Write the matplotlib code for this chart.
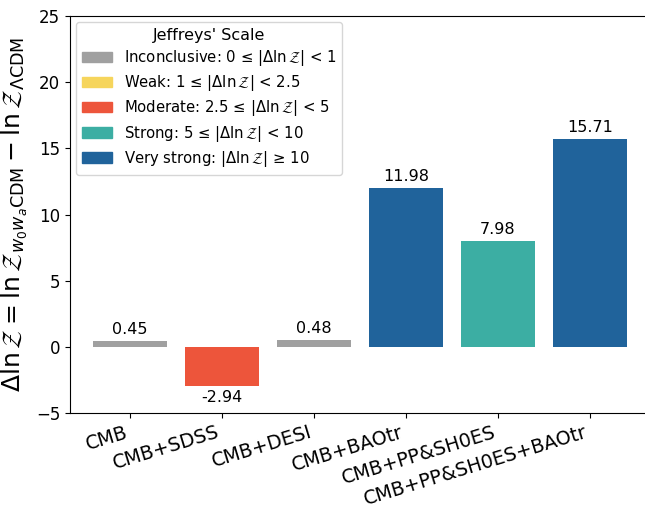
import matplotlib
matplotlib.use("Agg")
import matplotlib.pyplot as plt
from matplotlib.patches import Patch

# Data
datasets = ["CMB", "CMB+SDSS", "CMB+DESI", "CMB+BAOtr", "CMB+PP&SH0ES", "CMB+PP&SH0ES+BAOtr"]
delta_lnZ = [0.45, -2.94, 0.48, 11.98, 7.98, 15.71]

# Jeffreys' scale categories
scale_labels = [
    r"Inconclusive: 0 ≤ |$\Delta\ln\mathcal{Z}$| < 1",
    r"Weak: 1 ≤ |$\Delta\ln\mathcal{Z}$| < 2.5",
    r"Moderate: 2.5 ≤ |$\Delta\ln\mathcal{Z}$| < 5",
    r"Strong: 5 ≤ |$\Delta\ln\mathcal{Z}$| < 10",
    r"Very strong: |$\Delta\ln\mathcal{Z}$| ≥ 10",
]
scale_colors = ["#A0A0A0", "#F6D55C", "#ED553B", "#3CAEA3", "#20639B"]
scale_bounds = [1, 2.5, 5, 10]


def jeffreys_color(v):
    a = abs(v)
    for bound, col in zip(scale_bounds, scale_colors):
        if a < bound:
            return col
    return scale_colors[-1]


fig = plt.figure(figsize=(6.45, 5.12), dpi=100)
ax = fig.add_axes([70 / 645, 1 - 413 / 512, 587 / 645, 397 / 512])

x = list(range(len(datasets)))
colors = [jeffreys_color(v) for v in delta_lnZ]
bars = ax.bar(x, delta_lnZ, width=0.8, color=colors)

for b, v in zip(bars, delta_lnZ):
    if v >= 0:
        ax.annotate(f"{v:.2f}", (b.get_x() + b.get_width() / 2, v),
                    xytext=(0, 3), textcoords="offset points",
                    ha="center", va="bottom", fontsize=11.5)
    else:
        ax.annotate(f"{v:.2f}", (b.get_x() + b.get_width() / 2, v),
                    xytext=(0, -3), textcoords="offset points",
                    ha="center", va="top", fontsize=11.5)

ax.set_ylim(-5, 25)
ax.set_xlim(-0.65, 5.73)
ax.set_xticks(x)
ax.set_xticklabels(datasets, rotation=17, ha="right", fontsize=13.8)
ax.tick_params(axis="y", labelsize=12)
ax.set_ylabel(r"$\Delta\ln\mathcal{Z} = \ln\mathcal{Z}_{w_0w_a\mathrm{CDM}} - \ln\mathcal{Z}_{\Lambda\mathrm{CDM}}$",
              fontsize=18)

handles = [Patch(color=c, label=l) for c, l in zip(scale_colors, scale_labels)]
ax.legend(handles=handles, title="Jeffreys' Scale", loc="upper left",
          fontsize=10.7, title_fontsize=11.5, labelspacing=0.35,
          borderaxespad=0.4)

fig.savefig("out.png", dpi=100)
